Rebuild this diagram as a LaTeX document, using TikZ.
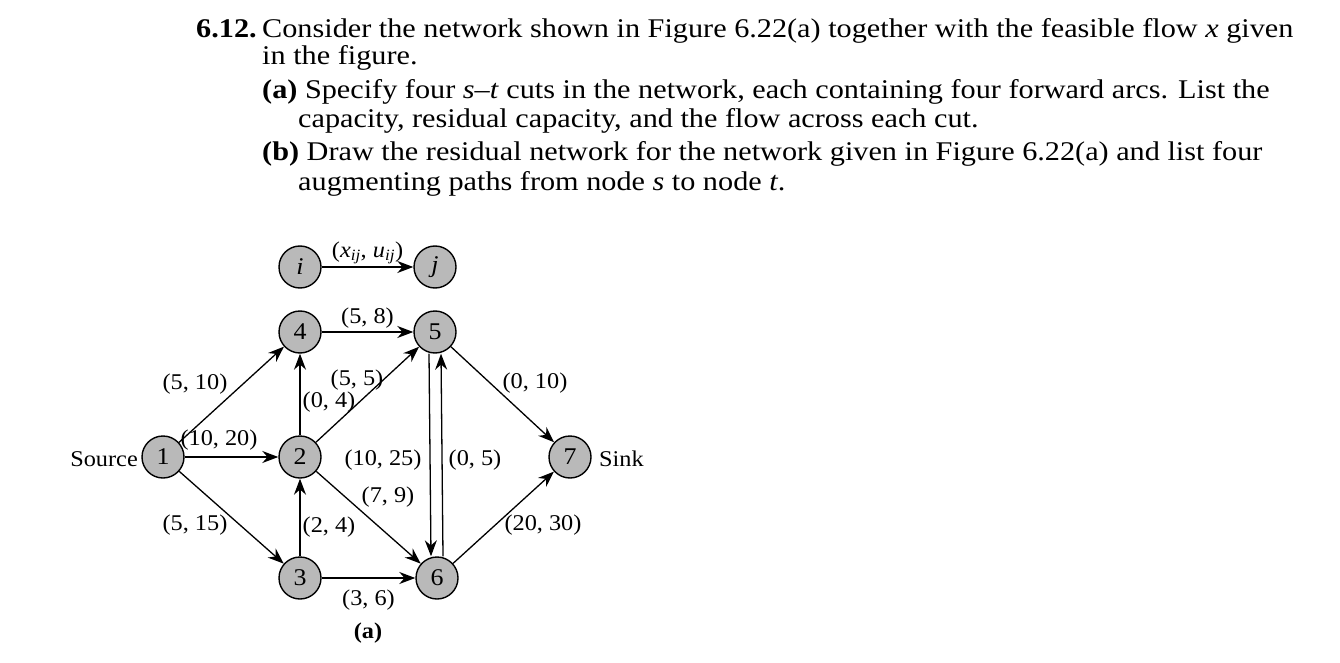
\documentclass[tikz,border=0pt]{standalone}
\usepackage{fontspec}
\setmainfont{Liberation Serif}
\newfontfamily\widefont[FakeStretch=1.12]{Liberation Serif}
\newfontfamily\labfont[FakeStretch=1.08]{Liberation Serif}
\usetikzlibrary{arrows.meta}
\begin{document}
\begin{tikzpicture}[x=1pt,y=-1pt,
  vtx/.style={circle,draw,line width=1.4pt,fill=gray!55,minimum size=42pt,inner sep=0pt,font=\labfont\fontsize{24}{26}\selectfont},
  arc/.style={draw,line width=1.3pt,-{Stealth[length=16pt,width=12pt]}},
  lab/.style={font=\labfont\fontsize{22.5}{26}\selectfont,inner sep=1pt},
  txt/.style={anchor=base west,font=\widefont\fontsize{27}{30}\selectfont,inner sep=0pt}]
\useasboundingbox (0,0) rectangle (1340,663);
\node[txt] (l0b) at (196,38) {\textbf{6.12.}};
\node[txt] (l0) at (262,38) {Consider the network shown in Figure 6.22(a) together with the feasible flow \textit{x} given};
\node[txt] (l1) at (262,65) {in the figure.};
\node[txt] (l2) at (262,99) {\textbf{(a)} Specify four \textit{s}–\textit{t} cuts in the network, each containing four forward arcs. List the};
\node[txt] (l3) at (298,128) {capacity, residual capacity, and the flow across each cut.};
\node[txt] (l4) at (262,161) {\textbf{(b)} Draw the residual network for the network given in Figure 6.22(a) and list four};
\node[txt] (l5) at (298,190) {augmenting paths from node \textit{s} to node \textit{t}.};

\node[vtx] (i) at (300,267) {\textit{i}};
\node[vtx] (j) at (435,267) {\textit{j}};
\node[vtx] (n4) at (300,332) {4};
\node[vtx] (n5) at (435,332) {5};
\node[vtx] (n1) at (163,457) {1};
\node[vtx] (n2) at (300,457) {2};
\node[vtx] (n7) at (570,457) {7};
\node[vtx] (n3) at (300,578) {3};
\node[vtx] (n6) at (437,578) {6};

\node[lab,anchor=east] (src) at (139,459) {Source};
\node[lab,anchor=west] (snk) at (598,459) {Sink};

\draw[arc] (i) -- node[lab,above=1pt] {(\textit{x}\textsubscript{\textit{ij}}, \textit{u}\textsubscript{\textit{ij}})} (j);
\draw[arc] (n4) -- node[lab,above=2pt] {(5, 8)} (n5);
\draw[arc] (n1) -- (n4);
\node[lab] (a14) at (195,384) {(5, 10)};
\draw[arc] (n1) -- (n2);
\node[lab] (a12) at (219,440) {(10, 20)};
\draw[arc] (n1) -- (n3);
\node[lab] (a13) at (195,525) {(5, 15)};
\draw[arc] (n2) -- (n4);
\node[lab] (a24) at (329,402) {(0, 4)};
\draw[arc] (n2) -- (n5);
\node[lab] (a25) at (357,380) {(5, 5)};
\draw[arc] (n2) -- (n6);
\node[lab] (a26) at (388,497) {(7, 9)};
\draw[arc] (n3) -- (n2);
\node[lab] (a32) at (329,527) {(2, 4)};
\draw[arc] (n3) -- node[lab,below=10pt] {(3, 6)} (n6);
\draw[arc] ([xshift=-6pt]n5.south) -- ([xshift=-6pt]n6.north);
\node[lab] (a56) at (383,460) {(10, 25)};
\draw[arc] ([xshift=6pt]n6.north) -- ([xshift=6pt]n5.south);
\node[lab] (a65) at (475,460) {(0, 5)};
\draw[arc] (n5) -- (n7);
\node[lab] (a57) at (535,383) {(0, 10)};
\draw[arc] (n6) -- (n7);
\node[lab] (a67) at (543,525) {(20, 30)};
\node[lab] (cap) at (368,633) {\textbf{(a)}};
\end{tikzpicture}
\end{document}
